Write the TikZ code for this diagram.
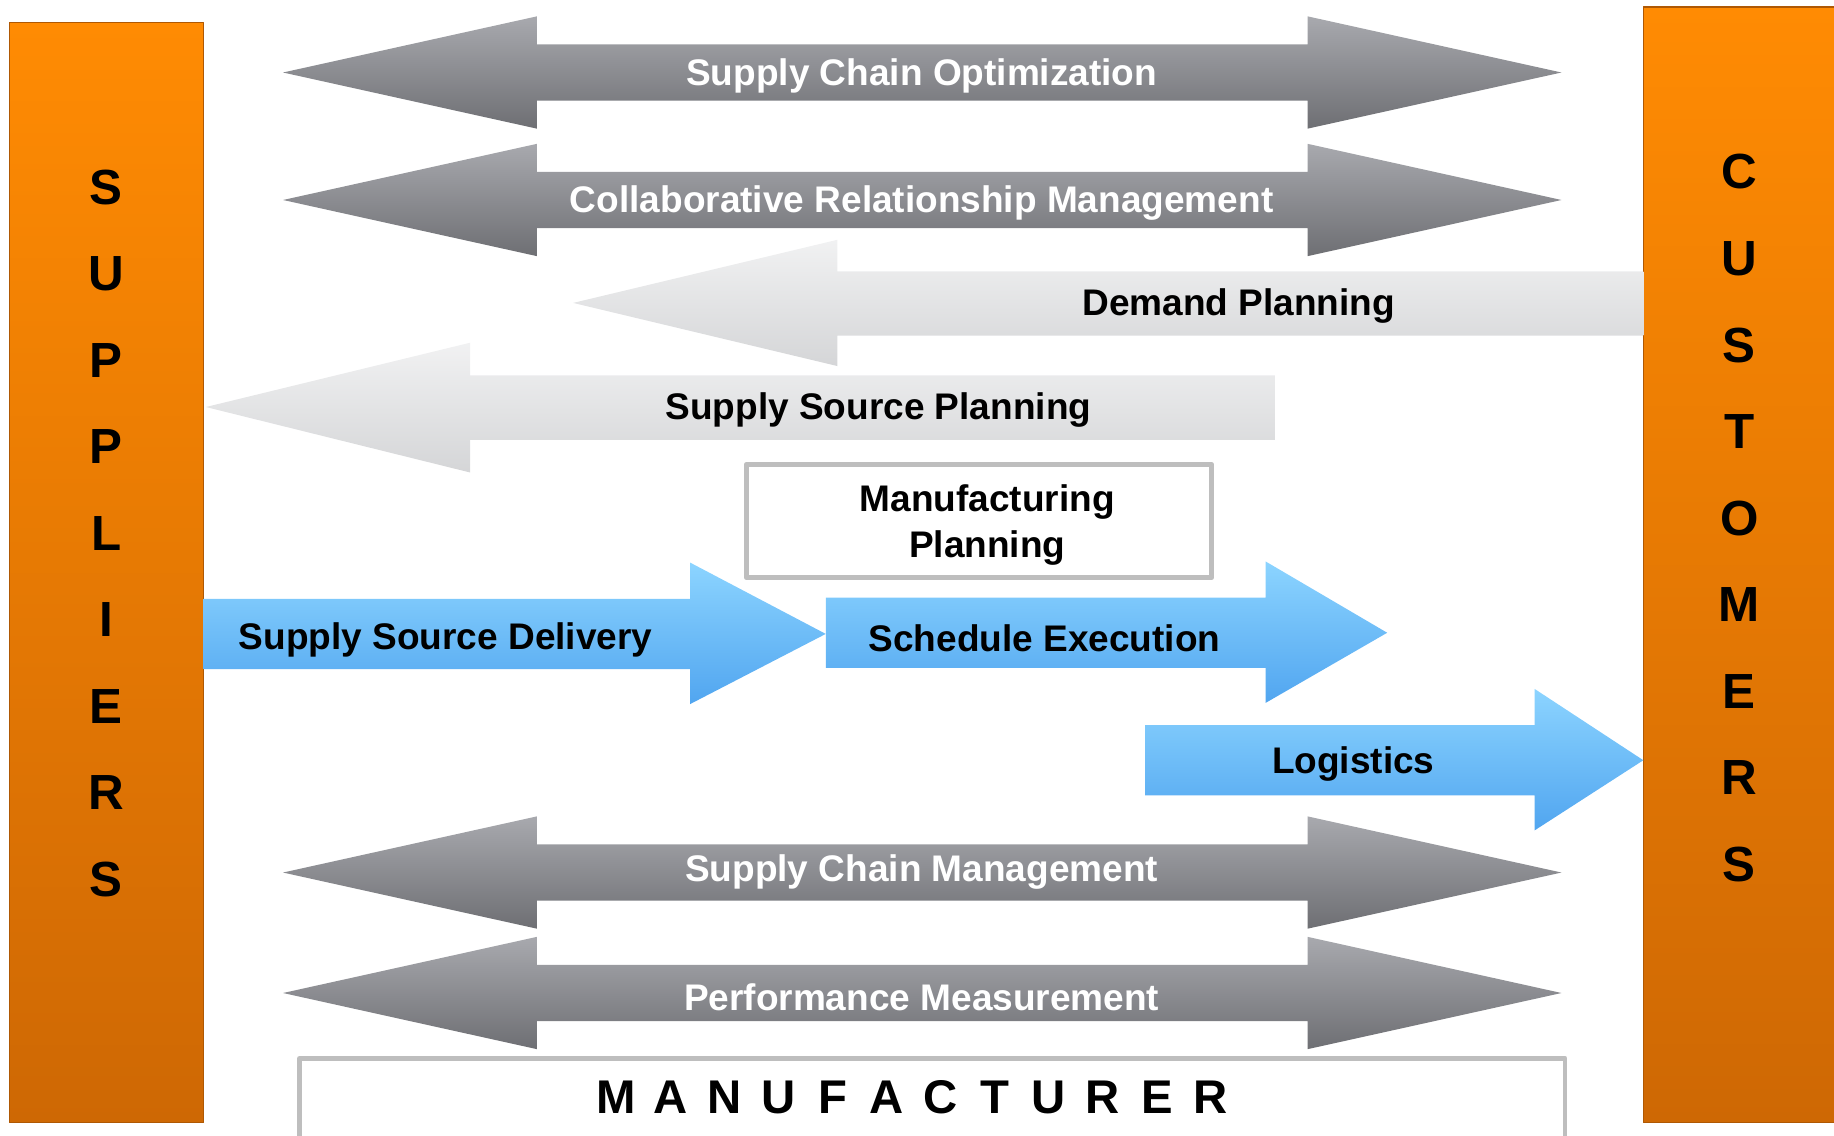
\documentclass[tikz,border=0pt]{standalone}
\usepackage{fontspec}
\setmainfont{Liberation Sans}
\definecolor{barorange}{RGB}{255,139,3}
\definecolor{barorangedark}{RGB}{206,104,4}
\definecolor{arrowgray}{RGB}{125,126,131}
\definecolor{arrowgraylight}{RGB}{168,169,174}
\definecolor{palegray}{RGB}{220,221,223}
\definecolor{flowblue}{RGB}{86,176,255}
\definecolor{flowbluelight}{RGB}{140,212,255}
\definecolor{boxgray}{RGB}{190,190,190}

\begin{document}
\begin{tikzpicture}[x=0.01cm, y=-0.01cm, line join=round,
	lbl/.style={font=\fontsize{9}{11}\selectfont\bfseries, inner sep=0pt, align=center, yshift=-0.8pt},
	lblw/.style={lbl, text=white},
	letter/.style={font=\fontsize{12}{14}\selectfont\bfseries, inner sep=0pt}]
	\useasboundingbox (0,0) rectangle (1568,971);
	% side bars
	\shade[top color=barorange, bottom color=barorangedark, draw=barorangedark!85!black, line width=0.3pt] (8,19) rectangle (174,960);
	\shade[top color=barorange, bottom color=barorangedark, draw=barorangedark!85!black, line width=0.3pt] (1405,6) rectangle (1580,960);
	\foreach \ltr [count=\i] in {S,U,P,P,L,I,E,R,S}
	\node[letter] (sup\i) at (91,86+74*\i) {\ltr};
	\foreach \ltr [count=\i] in {C,U,S,T,O,M,E,R,S}
	\node[letter] (cus\i) at (1487,73+74*\i) {\ltr};
	% grey double arrows
	\foreach \yc/\ty/\nm/\txt in {62/62/opt/Supply Chain Optimization,
		171/171/crm/Collaborative Relationship Management,
		746/743/scm/Supply Chain Management,
		849/850/perf/Performance Measurement}
	{
		\shade[top color=arrowgraylight, middle color=arrowgray, bottom color=arrowgray!88!black]
		(242,\yc) -- (459,\yc-48) -- (459,\yc-24) -- (1118,\yc-24) -- (1118,\yc-48)
		-- (1335,\yc) -- (1118,\yc+48) -- (1118,\yc+24) -- (459,\yc+24) -- (459,\yc+48) -- cycle;
		\node[lblw] (\nm) at (788,\ty) {\txt};
	}
	% pale planning arrows
	\shade[top color=palegray!40!white, middle color=palegray, bottom color=palegray!92!gray]
	(490,259) -- (716,205) -- (716,232) -- (1405,232) -- (1405,287) -- (716,287) -- (716,313) -- cycle;
	\node[lbl] (dem) at (1059,259) {Demand Planning};
	\shade[top color=palegray!40!white, middle color=palegray, bottom color=palegray!92!gray]
	(176,348) -- (402,293) -- (402,321) -- (1090,321) -- (1090,376) -- (402,376) -- (402,404) -- cycle;
	\node[lbl] (ssp) at (751,348) {Supply Source Planning};
	% manufacturing planning
	\draw[boxgray, line width=1.2pt] (638,397) rectangle (1036,494);
	\node[lbl] (mfp) at (844,446) {Manufacturing\\[0pt]Planning};
	% blue flow arrows
	\foreach \xa/\xb/\xc/\yc in {174/590/706/542, 706/1082/1186/541, 979/1312/1405/650}
	\shade[top color=flowbluelight, middle color=flowblue, bottom color=flowblue!94!black]
	(\xa,\yc-30) -- (\xb,\yc-30) -- (\xb,\yc-61) -- (\xc,\yc) -- (\xb,\yc+60)
	-- (\xb,\yc+30) -- (\xa,\yc+30) -- cycle;
	\node[lbl] (ssd) at (381,544) {Supply Source Delivery};
	\node[lbl] (sex) at (893,543) {Schedule Execution};
	\node[lbl] (log) at (1157,650) {Logistics};
	% manufacturer
	\draw[boxgray, line width=1.2pt] (256,905) rectangle (1338,980);
	\foreach \ltr [count=\i] in {M,A,N,U,F,A,C,T,U,R,E,R}
	\node[letter, font=\fontsize{11.5}{13}\selectfont\bfseries] (man\i) at (527+46.2*\i-46.2,938) {\ltr};
\end{tikzpicture}
\end{document}
